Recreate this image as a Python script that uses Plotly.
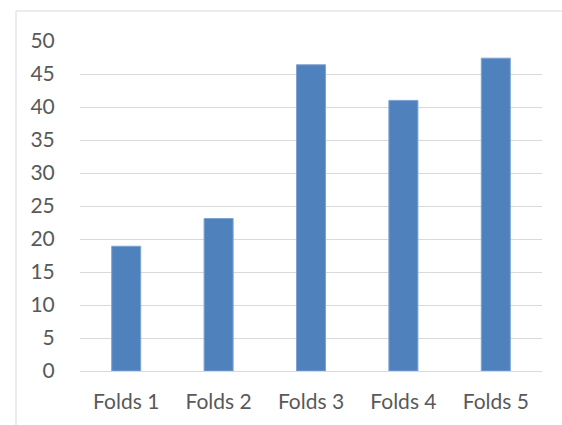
import plotly.graph_objects as go

categories = ["Folds 1", "Folds 2", "Folds 3", "Folds 4", "Folds 5"]
values = [18.9, 23.1, 46.4, 41.0, 47.4]
y_ticks = [0, 5, 10, 15, 20, 25, 30, 35, 40, 45, 50]

fig = go.Figure(
    go.Bar(
        x=categories,
        y=values,
        marker=dict(color="#4F81BD", line=dict(color="#7FA3D3", width=1)),
        hoverinfo="x+y",
    )
)

fig.update_layout(
    width=562,
    height=425,
    margin=dict(l=80, r=20, t=41, b=54),
    paper_bgcolor="white",
    plot_bgcolor="white",
    bargap=0.686,
    showlegend=False,
    font=dict(family="Lato, sans-serif", size=21, color="#595959"),
    xaxis=dict(
        showgrid=False,
        showline=False,
        ticks="outside",
        ticklen=12,
        tickcolor="rgba(0,0,0,0)",
        tickfont=dict(size=21, color="#595959"),
    ),
    yaxis=dict(
        range=[0, 50],
        tickvals=y_ticks,
        showgrid=True,
        gridcolor="#D9D9D9",
        gridwidth=1.3,
        zeroline=True,
        zerolinecolor="#D9D9D9",
        zerolinewidth=1.3,
        showline=False,
        ticks="outside",
        ticklen=20,
        tickcolor="rgba(0,0,0,0)",
        tickfont=dict(size=21, color="#595959"),
    ),
    shapes=[
        dict(
            type="rect",
            xref="paper",
            yref="paper",
            x0=-0.1385,
            x1=1.3,
            y0=-0.4,
            y1=1.0909,
            line=dict(color="#D9D9D9", width=1),
            fillcolor="rgba(0,0,0,0)",
            layer="below",
        )
    ],
)

fig.write_html("out.html")
